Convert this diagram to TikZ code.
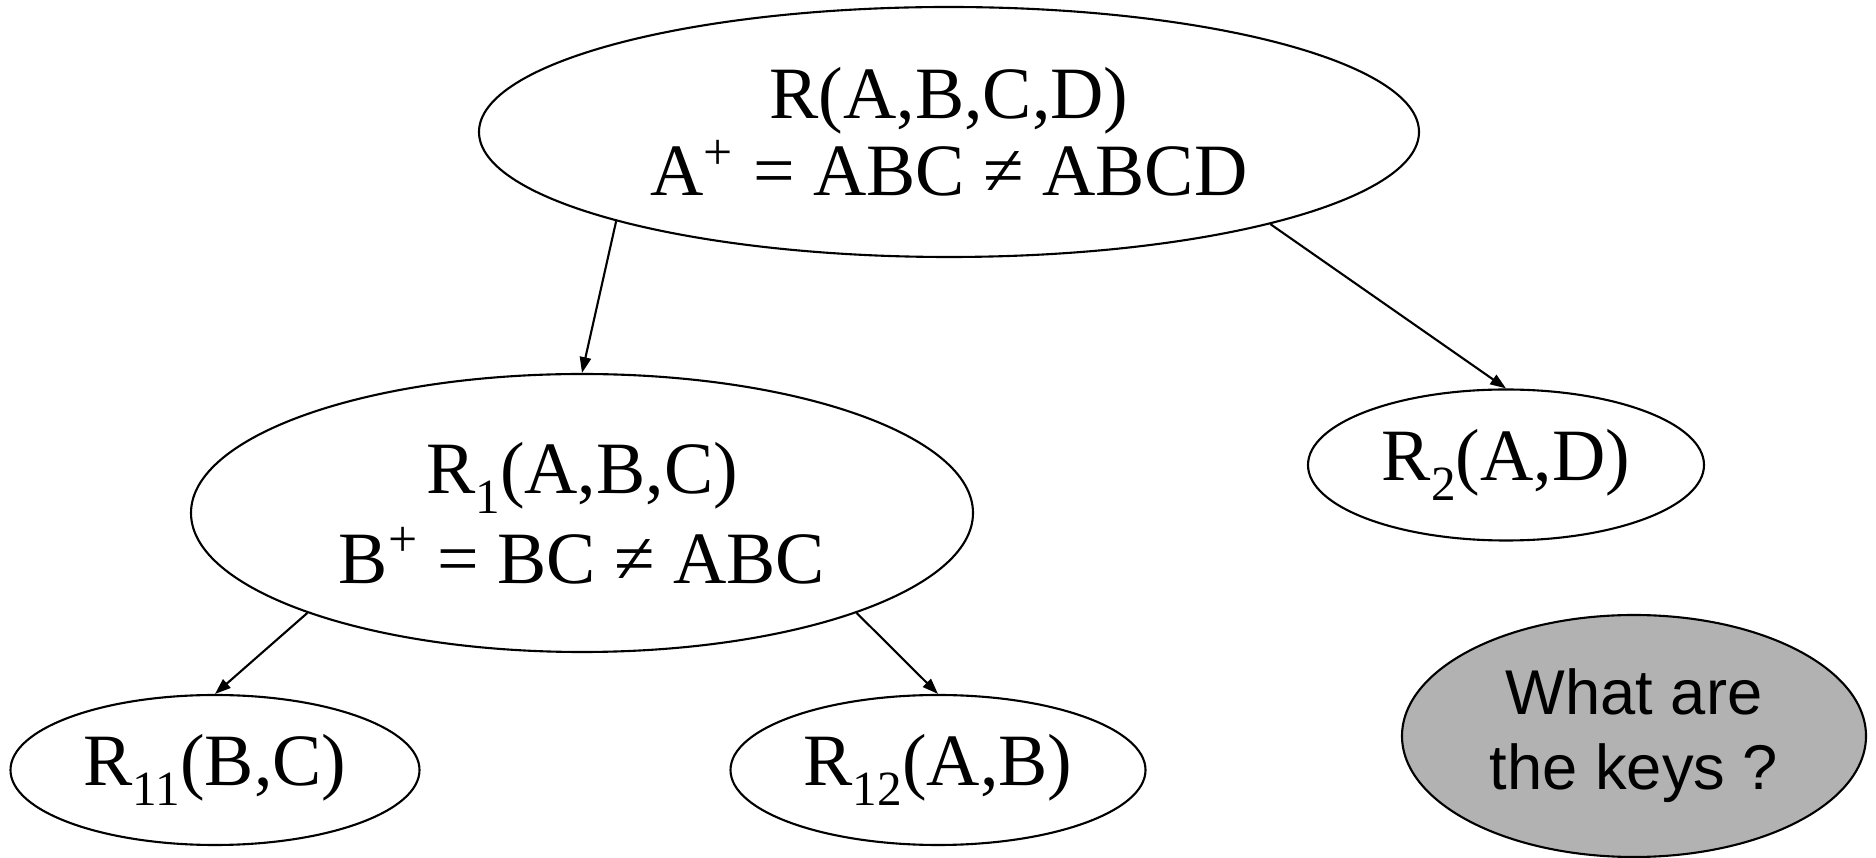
\documentclass[tikz,border=0pt]{standalone}
\usepackage{fontspec}
\setmainfont{Liberation Serif}
\newfontfamily\arialfont{Liberation Sans}
\usetikzlibrary{shapes.geometric,arrows.meta}
\newcommand\lowsub[1]{\raisebox{-0.27em}{\fontsize{14}{14}\selectfont #1}}
\tikzset{
  rel/.style={ellipse,draw=black,line width=0.6pt,inner sep=0pt,align=center},
  arr/.style={line width=0.6pt,-{Triangle[length=4.5pt,width=3.2pt]}},
  qbox/.style={ellipse,draw=black,line width=0.6pt,inner sep=0pt,align=center,
    fill={rgb,255:red,178;green,178;blue,178},font=\arialfont\fontsize{18}{21.3}\selectfont}
}
\begin{document}
\begin{tikzpicture}
\useasboundingbox (0,0) rectangle (18.76,-8.58);
\node[rel,minimum width=9.40cm,minimum height=2.50cm,font=\fontsize{21}{21.9}\selectfont]
  (top) at (9.49,-1.32) {R(A,B,C,D)\\A\textsuperscript{+} = ABC ≠ ABCD};
\node[rel,minimum width=7.82cm,minimum height=2.78cm,font=\fontsize{21}{25.6}\selectfont]
  (r1) at (5.82,-5.13) {R\lowsub{1}(A,B,C)\\B\textsuperscript{+} = BC ≠ ABC};
\node[rel,minimum width=3.96cm,minimum height=1.51cm,font=\fontsize{21}{25}\selectfont]
  (r2) at (15.06,-4.65) {R\lowsub{2}(A,D)};
\node[rel,minimum width=4.09cm,minimum height=1.50cm,font=\fontsize{21}{25}\selectfont]
  (r11) at (2.15,-7.70) {R\lowsub{11}(B,C)};
\node[rel,minimum width=4.15cm,minimum height=1.50cm,font=\fontsize{21}{25}\selectfont]
  (r12) at (9.38,-7.70) {R\lowsub{12}(A,B)};
\node[qbox,minimum width=4.64cm,minimum height=2.42cm]
  (keys) at (16.34,-7.36) {What are\\the keys ?};
\draw[arr] (top.195.4) -- (r1.north);
\draw[arr] (top.344.7) -- (r2.north);
\draw[arr] (r1.200) -- (r11.north);
\draw[arr] (r1.340) -- (r12.north);
\end{tikzpicture}
\end{document}
